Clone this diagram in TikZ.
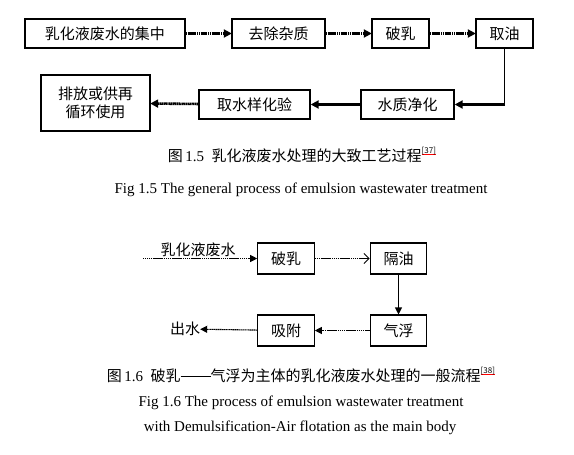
\documentclass[tikz,border=0pt]{standalone}
\usepackage{fontspec}
\setmainfont{Liberation Serif}
\newfontfamily\cjk{Noto Sans CJK SC}
\usetikzlibrary{arrows.meta}
\newcommand\refmark[1]{\raisebox{0.55em}{\fontsize{8}{8}\selectfont\setbox0\hbox{[#1]}\rlap{\textcolor{red}{\rule[-1.6pt]{\wd0}{0.8pt}}}\box0}}
\newcommand\longdash{\rule[0.33em]{2em}{0.7pt}}
\tikzset{
  boxA/.style={draw, line width=1.4pt, inner sep=0pt, minimum height=29pt, font=\cjk\fontsize{15}{18}\selectfont},
  boxB/.style={draw, line width=1.1pt, inner sep=0pt, minimum height=31pt, minimum width=56.5pt, font=\cjk\fontsize{15}{18}\selectfont},
  dotA/.style={line width=2.6pt, dash pattern=on 1.4pt off 0.45pt, -{Triangle[length=8pt,width=8pt]}, shorten >=-0.5pt},
  solA/.style={line width=2.6pt, -{Triangle[length=8pt,width=8pt]}},
  dotB/.style={line width=1.1pt, dash pattern=on 1.4pt off 0.5pt, -{Triangle[length=7pt,width=7pt]}},
  openB/.style={line width=1.1pt, dash pattern=on 1.4pt off 0.5pt, -{Straight Barb[length=5pt,width=10pt,line width=1pt]}},
  solB/.style={line width=1.1pt, -{Triangle[length=7pt,width=7pt]}},
  capC/.style={font=\cjk\fontsize{15}{18}\selectfont, inner sep=0pt},
  capE/.style={font=\fontsize{15}{18}\selectfont, inner sep=0pt},
}
\begin{document}
\begin{tikzpicture}[x=1pt,y=-1pt]
\useasboundingbox[fill=white] (0,0) rectangle (574,455);
% top diagram
\node[boxA, minimum width=160pt] (b1) at (105,33.5) {乳化液废水的集中};
\node[boxA, minimum width=93pt] (b2) at (278.5,33.5) {去除杂质};
\node[boxA, minimum width=57pt] (b3) at (400.5,33.5) {破乳};
\node[boxA, minimum width=57pt] (b4) at (504.5,33.5) {取油};
\node[boxA, minimum width=93pt] (b5) at (407.5,104.5) {水质净化};
\node[boxA, minimum width=111pt] (b6) at (254.5,104.5) {取水样化验};
\node[boxA, minimum width=109pt, minimum height=56pt, align=center] (b7) at (95.5,103) {排放或供再\\循环使用};
\draw[dotA] (b1) -- (b2);
\draw[dotA] (b2) -- (b3);
\draw[dotA] (b3) -- (b4);
\coordinate (k) at (b4.south |- b5.east);
\draw[line width=1.2pt] (b4.south) -- ([yshift=1.3pt]k);
\draw[solA] ([xshift=0.6pt]k) -- (b5.east);
\draw[solA] (b5) -- (b6);
\draw[dotA] (b6) -- (b7);
% captions 1.5
\node[capC] (t1) at (302,155) {图\,\fontspec{Liberation Serif}1.5\ \ \cjk 乳化液废水处理的大致工艺过程\refmark{37}};
\node[capE] (t2) at (301,190) {Fig 1.5 The general process of emulsion wastewater treatment};
% bottom diagram
\node[boxB] (c1) at (286,258.5) {破乳};
\node[boxB] (c2) at (398.5,258.5) {隔油};
\node[boxB] (c3) at (398.5,330.5) {气浮};
\node[boxB] (c4) at (286,330.5) {吸附};
\node[capC] (out) at (185,329) {出水};
\coordinate (in) at (143,258.5);
\node[capC] (inl) at (198,249.5) {乳化液废水};
\draw[dotB] (in) -- (c1);
\draw[openB] (c1) -- (c2);
\draw[solB] (c2) -- (c3);
\draw[dotB] (c3) -- (c4);
\draw[dotB] (c4) -- (out);
% captions 1.6
\node[capC] (t3) at (301,375) {图\,\fontspec{Liberation Serif}1.6\ \ \cjk 破乳\longdash 气浮为主体的乳化液废水处理的一般流程\refmark{38}};
\node[capE] (t4) at (301,403) {Fig 1.6 The process of emulsion wastewater treatment};
\node[capE] (t5) at (300,428) {with Demulsification-Air flotation as the main body};
\end{tikzpicture}
\end{document}
